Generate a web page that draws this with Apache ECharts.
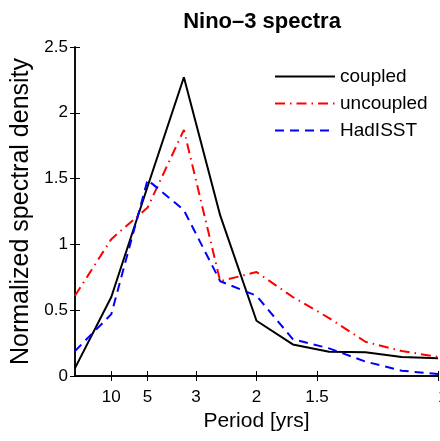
<!DOCTYPE html>
<html>
<head>
<meta charset="utf-8">
<script src="https://cdn.jsdelivr.net/npm/echarts@6/dist/echarts.min.js"></script>
<style>html,body{margin:0;padding:0;background:#fff}#c{width:440px;height:441px}</style>
</head>
<body>
<div id="c"></div>
<script>
// frequency (cycles / yr) of spectral estimates
var freq = [0, 0.1, 0.2, 0.3, 0.4, 0.5, 0.6, 0.7, 0.8, 0.9, 1.0];
var coupled   = [0.06, 0.60, 1.44, 2.27, 1.22, 0.42, 0.24, 0.185, 0.18, 0.145, 0.135];
var uncoupled = [0.61, 1.04, 1.28, 1.87, 0.72, 0.79, 0.60, 0.44, 0.26, 0.19, 0.145];
var hadisst   = [0.19, 0.47, 1.49, 1.26, 0.72, 0.61, 0.28, 0.21, 0.11, 0.04, 0.015];
// period tick labels (yrs)
var periodTicks = [10, 5, 3, 2, 1.5, 1];
var periodLabels = ['10', '5', '3', '2', '1.5', '1'];

var tickFreq = periodTicks.map(function (p) { return 1 / p; });
function pairs(v) { return v.map(function (y, i) { return [freq[i], y]; }); }
function labelFor(v) {
  var best = 0, d = 1e9;
  tickFreq.forEach(function (f, i) { if (Math.abs(f - v) < d) { d = Math.abs(f - v); best = i; } });
  return periodLabels[best];
}
var FONT = 'Liberation Sans';
var chart = echarts.init(document.getElementById('c'), null, {renderer: 'canvas'});
chart.setOption({
  animation: false,
  title: {
    text: 'Nino–3 spectra', left: 257, top: 6, textAlign: 'center',
    textStyle: {fontFamily: FONT, fontSize: 22, fontWeight: 'bold', color: '#000'}
  },
  legend: {
    orient: 'vertical', left: 269, top: 62, itemWidth: 60, itemHeight: 14, itemGap: 8,
    itemStyle: {opacity: 0},
    textStyle: {fontFamily: FONT, fontSize: 19, color: '#000'},
    data: ['coupled', 'uncoupled', 'HadISST']
  },
  grid: {left: 75, right: 2, top: 47, bottom: 65, outerBoundsMode: 'none'},
  xAxis: [{
    type: 'value', min: 0, max: 1, position: 'bottom',
    name: 'Period [yrs]', nameLocation: 'middle', nameGap: 34,
    nameTextStyle: {fontFamily: FONT, fontSize: 21, color: '#000'},
    axisLine: {lineStyle: {color: '#000', width: 1.5}},
    axisTick: {inside: true, length: 5, customValues: tickFreq, lineStyle: {color: '#000'}},
    axisLabel: {customValues: tickFreq, formatter: labelFor, margin: 13, alignMaxLabel: 'left',
      fontFamily: FONT, fontSize: 17, color: '#000'},
    splitLine: {show: false}
  }, {
    type: 'value', min: 0, max: 1, position: 'top',
    axisLine: {lineStyle: {color: '#000', width: 1.5}},
    axisTick: {inside: true, length: 5, customValues: tickFreq, lineStyle: {color: '#000'}},
    axisLabel: {show: false}, splitLine: {show: false}
  }],
  yAxis: [{
    type: 'value', min: 0, max: 2.5, interval: 0.5, position: 'left',
    name: 'Normalized spectral density', nameLocation: 'middle', nameGap: 41, nameMoveOverlap: false,
    nameTextStyle: {fontFamily: FONT, fontSize: 25, color: '#000'},
    axisLine: {show: true, lineStyle: {color: '#000', width: 1.5}},
    axisTick: {show: true, inside: true, length: 5, lineStyle: {color: '#000'}},
    axisLabel: {margin: 7, fontFamily: FONT, fontSize: 17, color: '#000'},
    splitLine: {show: false}
  }, {
    type: 'value', min: 0, max: 2.5, interval: 0.5, position: 'right',
    axisLine: {show: true, lineStyle: {color: '#000', width: 1.5}},
    axisTick: {show: true, inside: true, length: 5, lineStyle: {color: '#000'}},
    axisLabel: {show: false}, splitLine: {show: false}
  }],
  series: [{
    name: 'coupled', type: 'line', data: pairs(coupled), symbol: 'none',
    lineStyle: {color: '#000', width: 2, type: 'solid'}, itemStyle: {color: '#000'}
  }, {
    name: 'uncoupled', type: 'line', data: pairs(uncoupled), symbol: 'none',
    lineStyle: {color: '#ff0000', width: 2, type: [10, 5, 1.5, 5]}, itemStyle: {color: '#ff0000'}
  }, {
    name: 'HadISST', type: 'line', data: pairs(hadisst), symbol: 'none',
    lineStyle: {color: '#0000ff', width: 2, type: [9, 6]}, itemStyle: {color: '#0000ff'}
  }]
});
</script>
</body>
</html>
